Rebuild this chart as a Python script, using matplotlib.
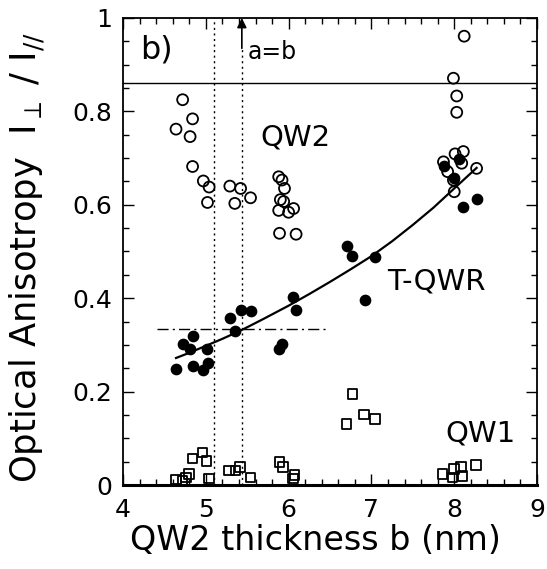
import numpy as np
import matplotlib
matplotlib.use("Agg")
import matplotlib.pyplot as plt
from matplotlib.ticker import MultipleLocator, FuncFormatter

plt.rcParams["font.family"] = ["DejaVu Sans"]

# ---------------------------------------------------------
# data
# ---------------------------------------------------------
# QW2 (open circles)
qw2_x = [4.72, 4.84, 4.64, 4.81, 4.84, 4.97, 5.04, 5.02, 5.29, 5.42, 5.54, 5.35,
         5.88, 5.92, 5.95, 5.90, 5.94, 5.88, 6.00, 6.06, 5.89, 6.09,
         8.12, 7.99, 8.03, 8.03, 7.87, 7.92, 8.01, 8.11, 8.09, 7.99, 8.00, 8.27]
qw2_y = [0.825, 0.784, 0.762, 0.746, 0.682, 0.651, 0.638, 0.605, 0.640, 0.635, 0.615, 0.603,
         0.660, 0.653, 0.635, 0.611, 0.607, 0.588, 0.584, 0.592, 0.539, 0.537,
         0.961, 0.871, 0.833, 0.798, 0.692, 0.671, 0.709, 0.714, 0.689, 0.653, 0.628, 0.678]

# T-QWR (filled circles)
tqwr_x = [4.64, 4.72, 4.84, 4.81, 4.84, 4.96, 5.01, 5.03, 5.29, 5.35, 5.42, 5.54,
          5.88, 5.92, 6.05, 6.09, 6.70, 6.77, 7.04, 6.92, 7.88, 8.06, 8.00, 8.11, 8.27]
tqwr_y = [0.249, 0.302, 0.319, 0.291, 0.255, 0.246, 0.292, 0.262, 0.358, 0.330, 0.374, 0.373,
          0.292, 0.302, 0.402, 0.374, 0.512, 0.491, 0.488, 0.396, 0.684, 0.699, 0.657, 0.596, 0.612]

# QW1 (open squares)
qw1_x = [4.64, 4.72, 4.80, 4.76, 4.84, 4.96, 5.01, 5.04, 5.28, 5.36, 5.41, 5.54,
         5.89, 5.93, 6.07, 6.05, 6.70, 6.77, 6.91, 7.04,
         7.86, 7.98, 8.00, 8.08, 8.10, 8.26]
qw1_y = [0.012, 0.008, 0.024, 0.016, 0.057, 0.070, 0.052, 0.014, 0.031, 0.031, 0.038, 0.016,
         0.049, 0.038, 0.021, 0.014, 0.131, 0.195, 0.151, 0.141,
         0.024, 0.016, 0.034, 0.039, 0.019, 0.043]

# fitted T-QWR curve
fit_x = [4.64, 4.8, 5.0, 5.2, 5.435, 5.7, 6.0, 6.25, 6.5, 6.75, 7.0, 7.25,
         7.5, 7.75, 8.0, 8.27]
fit_y = [0.272, 0.283, 0.298, 0.313, 0.332, 0.356, 0.384, 0.409, 0.435, 0.462,
         0.490, 0.522, 0.557, 0.594, 0.635, 0.679]

# guide lines
qw2_limit = 0.861          # horizontal solid line
b_lines = [5.10, 5.435]    # vertical dotted lines
a_eq_b = 5.435             # arrow position
ratio_level = 0.334        # dash-dot horizontal line
ratio_span = (4.41, 6.47)

# =========================================================
# FIGURE
# =========================================================
fig = plt.figure(figsize=(5.47, 5.69), dpi=100)
ax = fig.add_axes([0.2249, 0.1476, 0.7569, 0.8208])

ax.scatter(qw1_x, qw1_y, marker="s", s=48, facecolors="none",
           edgecolors="black", linewidths=1.3, zorder=3)
ax.scatter(qw2_x, qw2_y, marker="o", s=62, facecolors="none",
           edgecolors="black", linewidths=1.3, zorder=3)
ax.scatter(tqwr_x, tqwr_y, marker="o", s=55, color="black", zorder=4)
ax.plot(fit_x, fit_y, color="black", linewidth=1.6, zorder=5)

# guides
ax.axhline(qw2_limit, color="black", linewidth=1.0)
ax.axvline(b_lines[0], color="black", linewidth=1.0, linestyle=(0, (1.5, 2.5)))
ax.plot([b_lines[1], b_lines[1]], [0, 0.935], color="black",
        linewidth=1.0, linestyle=(0, (1.5, 2.5)))
ax.annotate("", xy=(a_eq_b, 1.0), xytext=(a_eq_b, 0.935),
            arrowprops=dict(arrowstyle="-|>", color="black", lw=1.2,
                            mutation_scale=14, shrinkA=0, shrinkB=0))
ax.plot(ratio_span, [ratio_level, ratio_level], color="black",
        linewidth=1.0, linestyle=(0, (8, 3, 1.5, 3)))

# labels inside the plot
ax.text(4.21, 0.932, "b)", fontsize=23, va="center", ha="left")
ax.text(5.50, 0.928, "a=b", fontsize=17, va="center", ha="left")
ax.text(5.66, 0.745, "QW2", fontsize=21, va="center", ha="left")
ax.text(7.19, 0.435, "T-QWR", fontsize=21, va="center", ha="left")
ax.text(7.89, 0.111, "QW1", fontsize=21, va="center", ha="left")

# axes
ax.set_xlim(4, 9)
ax.set_ylim(0, 1)
ax.xaxis.set_major_locator(MultipleLocator(1))
ax.xaxis.set_minor_locator(MultipleLocator(0.2))
ax.yaxis.set_major_locator(MultipleLocator(0.2))
ax.yaxis.set_minor_locator(MultipleLocator(0.05))
ax.yaxis.set_major_formatter(FuncFormatter(lambda v, p: "%g" % v))

ax.tick_params(which="both", direction="in", top=True, right=True,
               labelsize=18, width=1.0)
ax.tick_params(which="major", length=8)
ax.tick_params(which="minor", length=4)
ax.tick_params(axis="x", pad=9)
ax.tick_params(axis="y", pad=8)

for side in ["left", "right", "top"]:
    ax.spines[side].set_linewidth(1.3)
ax.spines["bottom"].set_linewidth(2.2)

ax.set_xlabel("QW2 thickness b (nm)", fontsize=24)
ax.xaxis.set_label_coords(0.465, -0.083)
fig.text(0.05, 0.548, r"Optical Anisotropy  I$_{\perp}$ / I$_{//}$",
         fontsize=25.5, rotation=90, ha="center", va="center")

plt.savefig("out.png", dpi=100)
plt.close()
